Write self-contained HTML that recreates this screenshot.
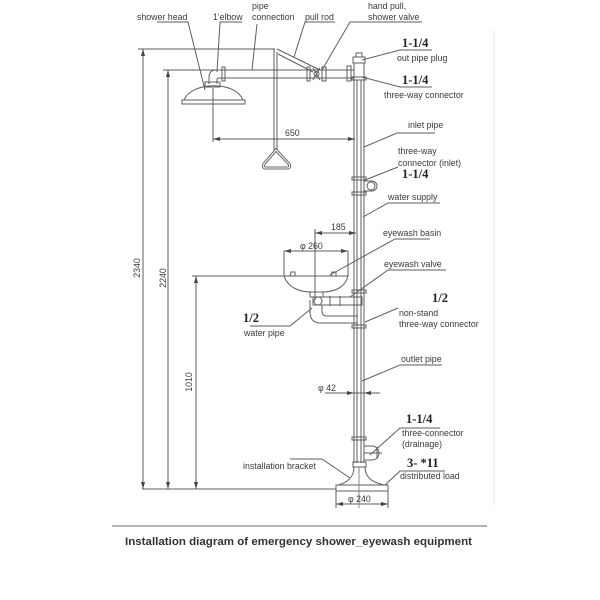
<!DOCTYPE html>
<html><head><meta charset="utf-8"><style>
html,body{margin:0;padding:0;background:#fff;}
svg{display:block;}
text{font-family:"Liberation Sans",sans-serif;fill:#3a3a3a;font-size:8.8px;}
.b{font-family:"Liberation Serif",serif;font-weight:bold;font-size:12.5px;fill:#222;}
</style></head><body>
<svg width="600" height="600" viewBox="0 0 600 600" xmlns="http://www.w3.org/2000/svg">
<g stroke="#5e5e5e" stroke-width="1" fill="none">
<line x1="494" y1="30" x2="494" y2="505" stroke="#e8e8e8"/>
<line x1="138" y1="49" x2="275" y2="49"/>
<line x1="163" y1="70" x2="220" y2="70"/>
<line x1="192" y1="276" x2="284" y2="276"/>
<line x1="142" y1="489" x2="336" y2="489"/>
<line x1="143" y1="49" x2="143" y2="489"/>
<line x1="168" y1="70" x2="168" y2="489"/>
<line x1="196" y1="276" x2="196" y2="489"/>
<line x1="213" y1="88" x2="213" y2="142"/>
<line x1="213" y1="139" x2="355" y2="139"/>
<line x1="315" y1="229" x2="315" y2="300"/>
<line x1="315" y1="233" x2="356" y2="233"/>
<line x1="284" y1="251" x2="348" y2="251"/>
<line x1="325" y1="393" x2="380" y2="393"/>
<line x1="336" y1="491" x2="336" y2="508"/>
<line x1="388" y1="491" x2="388" y2="508"/>
<line x1="336" y1="504" x2="388" y2="504"/>

<line x1="222" y1="70" x2="354" y2="70"/>
<line x1="222" y1="78" x2="354" y2="78"/>
<rect x="222" y="67" width="3" height="14"/>
<rect x="307" y="67" width="3" height="14"/>
<rect x="322" y="67" width="4" height="14"/>
<rect x="347" y="66" width="4" height="15"/>
<path d="M313 68 L320 80 M320 68 L313 80"/>
<circle cx="316.5" cy="74" r="2.5"/>
<path d="M222 70 L216 70 Q209 70 209 78 L209 84 M222 78 L219 78 Q217 78 217 80 L217 84"/>
<rect x="205" y="82" width="15" height="5"/>
<path d="M184 100 C192 81 236 81 243 100"/>
<rect x="182" y="100" width="63" height="4"/>
<line x1="274" y1="49" x2="274" y2="150"/>
<line x1="277" y1="52" x2="277" y2="150"/>
<line x1="277" y1="49" x2="320" y2="70"/>
<line x1="278" y1="54" x2="313" y2="72"/>
<path d="M276 150 L289 164 Q291 168 287 168 L266 168 Q262 168 264 164 Z" stroke-width="3" stroke="#666"/>
<path d="M276 150 L289 164 Q291 168 287 168 L266 168 Q262 168 264 164 Z" stroke-width="1" stroke="#fff"/>

<line x1="354" y1="63" x2="354" y2="463"/>
<line x1="357" y1="80" x2="357" y2="463"/>
<line x1="361" y1="80" x2="361" y2="463"/>
<line x1="364" y1="63" x2="364" y2="463"/>
<rect x="353" y="57" width="12" height="6"/>
<rect x="356" y="53" width="6" height="4"/>
<rect x="352" y="77" width="14" height="3"/>
<rect x="352" y="177" width="14" height="3"/>
<rect x="352" y="192" width="14" height="3"/>
<path d="M364 181 L372 181 A5 5 0 0 1 372 191 L364 191"/>
<circle cx="371" cy="186" r="4"/>
<rect x="352" y="290" width="14" height="3"/>
<rect x="352" y="325" width="14" height="3"/>
<rect x="352" y="437" width="14" height="3"/>
<path d="M364 446 L372 446 A7 7 0 0 1 372 460 L364 460"/>
<line x1="364" y1="453" x2="382" y2="453"/>
<line x1="377" y1="447" x2="377" y2="459"/>
<rect x="353" y="462" width="13" height="5"/>
<path d="M354 467 C354 478 346 483 338 485 M365 467 C365 478 373 483 385 485"/>
<rect x="336" y="485" width="52" height="6"/>
<line x1="359" y1="467" x2="359" y2="508" stroke="#888"/>

<line x1="284" y1="251" x2="284" y2="276"/>
<line x1="348" y1="251" x2="348" y2="276"/>
<line x1="284" y1="276" x2="348" y2="276"/>
<path d="M284 276 C288 288 300 292 311 292 L322 292 C334 292 345 288 348 276"/>
<path d="M290 276 L291 272 L295 272 L295 276 M331 276 L332 272 L336 272 L336 276"/>
<rect x="310" y="292" width="13" height="5"/>
<rect x="313" y="297" width="49" height="8"/>
<circle cx="318" cy="301" r="4"/>
<line x1="330" y1="296" x2="330" y2="306"/>
<line x1="340" y1="296" x2="340" y2="306"/>
<path d="M310 300 L310 312 Q310 323 321 323 L358 323"/>
<path d="M322 305 L322 311 Q322 316 327 316 L358 316"/>

<path d="M157 22 L188 22 L205 90"/>
<path d="M242 22 L220 22 L217 72"/>
<path d="M257 24 L252 70"/>
<path d="M335 22 L305 22 L294 57"/>
<path d="M422 22 L350 22 L322 70"/>
<path d="M432 50 L400 50 L362 60"/>
<path d="M432 87 L400 87 L362 77"/>
<path d="M435 133 L397 133 L364 147"/>
<path d="M365 180 L398 167"/>
<path d="M440 203 L388 203 L363 217"/>
<path d="M430 239 L395 239 L330 275"/>
<path d="M446 270 L388 270 L350 297"/>
<path d="M365 322 L398 308"/>
<path d="M250 326 L290 326 L312 308"/>
<path d="M442 365 L400 365 L362 381"/>
<path d="M440 428 L400 428 L370 455"/>
<path d="M290 459 L322 459 L350 478"/>
<path d="M445 471 L400 471 L385 485"/>
<line x1="112" y1="526" x2="487" y2="526" stroke="#666"/>
</g>

<g fill="#444">
<path d="M143 49 L141 56 L145 56 Z"/>
<path d="M143 489 L141 482 L145 482 Z"/>
<path d="M168 70 L166 77 L170 77 Z"/>
<path d="M168 489 L166 482 L170 482 Z"/>
<path d="M196 276 L194 283 L198 283 Z"/>
<path d="M196 489 L194 482 L198 482 Z"/>
<path d="M213 139 L220 137 L220 141 Z"/>
<path d="M355 139 L348 137 L348 141 Z"/>
<path d="M315 233 L322 231 L322 235 Z"/>
<path d="M356 233 L349 231 L349 235 Z"/>
<path d="M284 251 L291 249 L291 253 Z"/>
<path d="M348 251 L341 249 L341 253 Z"/>
<path d="M354 393 L347 391 L347 395 Z"/>
<path d="M364 393 L371 391 L371 395 Z"/>
<path d="M336 504 L343 502 L343 506 Z"/>
<path d="M388 504 L381 502 L381 506 Z"/>
</g>

<text x="137" y="20">shower head</text>
<text x="213" y="20">1'elbow</text>
<text x="252" y="9">pipe</text>
<text x="252" y="20">connection</text>
<text x="305" y="20">pull rod</text>
<text x="368" y="9">hand pull,</text>
<text x="368" y="20">shower valve</text>
<text class="b" x="402" y="47">1-1/4</text>
<text x="397" y="61">out pipe plug</text>
<text class="b" x="402" y="84">1-1/4</text>
<text x="384" y="98">three-way connector</text>
<text x="408" y="128">inlet pipe</text>
<text x="398" y="154">three-way</text>
<text x="398" y="166">connector (inlet)</text>
<text class="b" x="402" y="178">1-1/4</text>
<text x="388" y="200">water supply</text>
<text x="331" y="230">185</text>
<text x="300" y="249">φ 260</text>
<text x="383" y="236">eyewash basin</text>
<text x="384" y="267">eyewash valve</text>
<text class="b" x="432" y="302">1/2</text>
<text x="399" y="316">non-stand</text>
<text x="399" y="327">three-way connector</text>
<text class="b" x="243" y="322">1/2</text>
<text x="244" y="336">water pipe</text>
<text x="285" y="136">650</text>
<text x="140" y="268" text-anchor="middle" transform="rotate(-90 140 268)">2340</text>
<text x="166" y="278" text-anchor="middle" transform="rotate(-90 166 278)">2240</text>
<text x="192" y="382" text-anchor="middle" transform="rotate(-90 192 382)">1010</text>
<text x="401" y="362">outlet pipe</text>
<text x="318" y="391">φ 42</text>
<text class="b" x="406" y="423">1-1/4</text>
<text x="402" y="436">three-connector</text>
<text x="402" y="447">(drainage)</text>
<text x="243" y="469">installation bracket</text>
<text class="b" x="407" y="467">3- *11</text>
<text x="400" y="479">distributed load</text>
<text x="348" y="502">φ 240</text>
<text x="125" y="545" textLength="347" lengthAdjust="spacingAndGlyphs" style="font-weight:bold;font-size:11px;fill:#333">Installation diagram of emergency shower_eyewash equipment</text>
</svg>
</body></html>
